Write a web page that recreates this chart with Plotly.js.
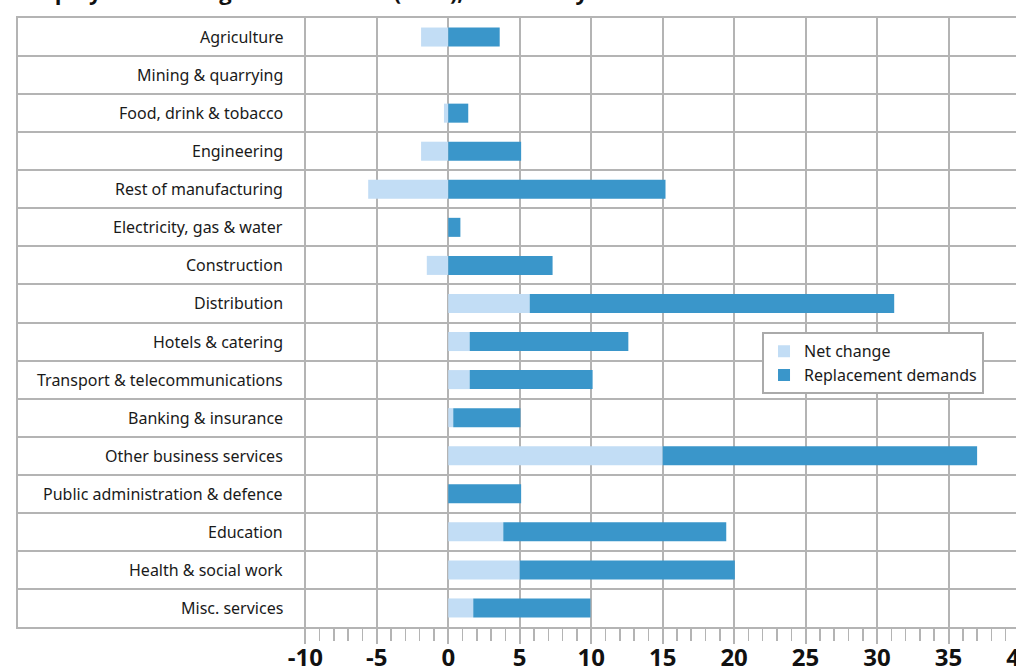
<!DOCTYPE html>
<html>
<head>
<meta charset="utf-8">
<script src="https://cdn.plot.ly/plotly-3.0.1.min.js"></script>
<style>
html,body{margin:0;padding:0;overflow:hidden;background:#fff;}
#chart{width:1040px;height:667px;}
</style>
</head>
<body>
<div id="chart"></div>
<script>
const categories = [
  "Agriculture",
  "Mining & quarrying",
  "Food, drink & tobacco",
  "Engineering",
  "Rest of manufacturing",
  "Electricity, gas & water",
  "Construction",
  "Distribution",
  "Hotels & catering",
  "Transport & telecommunications",
  "Banking & insurance",
  "Other business services",
  "Public administration & defence",
  "Education",
  "Health & social work",
  "Misc. services"
];
const netChange = [-1.9, 0, -0.3, -1.9, -5.6, 0, -1.5, 5.7, 1.5, 1.5, 0.35, 15.0, 0, 3.85, 5.0, 1.75];
const replacementDemands = [3.6, 0, 1.4, 5.1, 15.2, 0.85, 7.3, 25.5, 11.1, 8.6, 4.7, 22.0, 5.1, 15.6, 15.05, 8.2];
const xTickVals = [-10, -5, 0, 5, 10, 15, 20, 25, 30, 35, 40];
const xTickText = ["-10", "-5", "0", "5", "10", "15", "20", "25", "30", "35", "40"];
const titleText = "Employment change and demand (000s), 2004–14 by sector";

const minorVals = [];
for (let v = -10; v <= 41; v++) { if (v % 5 !== 0) minorVals.push(v); }

const gridCol = "#b4b4b4";
const textFont = {family: "Noto Sans, Open Sans, sans-serif", size: 16, color: "#1a1a1a"};

const traces = [
  {type: "bar", orientation: "h", name: "Net change", y: categories, x: netChange,
   width: 0.5, marker: {color: "#c2ddf5", line: {width: 0}}},
  {type: "bar", orientation: "h", name: "Replacement demands", y: categories, x: replacementDemands,
   width: 0.5, marker: {color: "#3a96ca", line: {width: 0}}}
];

const annotations = categories.map(c => ({
  x: -11.45, xref: "x", y: c, yref: "y", text: c, showarrow: false,
  xanchor: "right", yanchor: "middle", font: textFont
}));

const layout = {
  width: 1040, height: 667,
  margin: {l: 18, r: 0, t: 18, b: 40},
  paper_bgcolor: "#fff", plot_bgcolor: "#fff",
  barmode: "relative",
  showlegend: true,
  title: {
    text: titleText, x: 0.02, xref: "container", xanchor: "left",
    y: 1, yref: "paper", yanchor: "bottom", pad: {b: 18},
    font: {family: "Open Sans, sans-serif", size: 22, weight: 700, color: "#111"}
  },
  legend: {
    x: 0.728, y: 0.484, xanchor: "left", yanchor: "top",
    bgcolor: "#fff", bordercolor: "#aaaaaa", borderwidth: 2,
    font: textFont, traceorder: "normal"
  },
  xaxis: {
    range: [-30.1, 41.4], fixedrange: true,
    tickmode: "array", tickvals: xTickVals, ticktext: xTickText,
    ticks: "outside", ticklen: 15, tickwidth: 2, tickcolor: gridCol,
    ticklabelstandoff: -7,
    showgrid: true, gridcolor: gridCol, gridwidth: 2,
    zeroline: false,
    showline: true, linecolor: gridCol, linewidth: 2, mirror: true,
    tickfont: {family: "Open Sans, sans-serif", size: 24, weight: 700, color: "#111"},
    minor: {tickmode: "array", tickvals: minorVals, ticks: "outside", ticklen: 12, tickwidth: 1.5, tickcolor: gridCol, showgrid: false}
  },
  yaxis: {
    type: "category", categoryorder: "array", categoryarray: categories,
    autorange: "reversed", fixedrange: true,
    tickson: "boundaries", ticks: "", showticklabels: false,
    showgrid: true, gridcolor: gridCol, gridwidth: 2,
    showline: true, linecolor: gridCol, linewidth: 2, mirror: false
  },
  annotations: annotations
};

Plotly.newPlot("chart", traces, layout, {staticPlot: true, displayModeBar: false});
</script>
</body>
</html>
